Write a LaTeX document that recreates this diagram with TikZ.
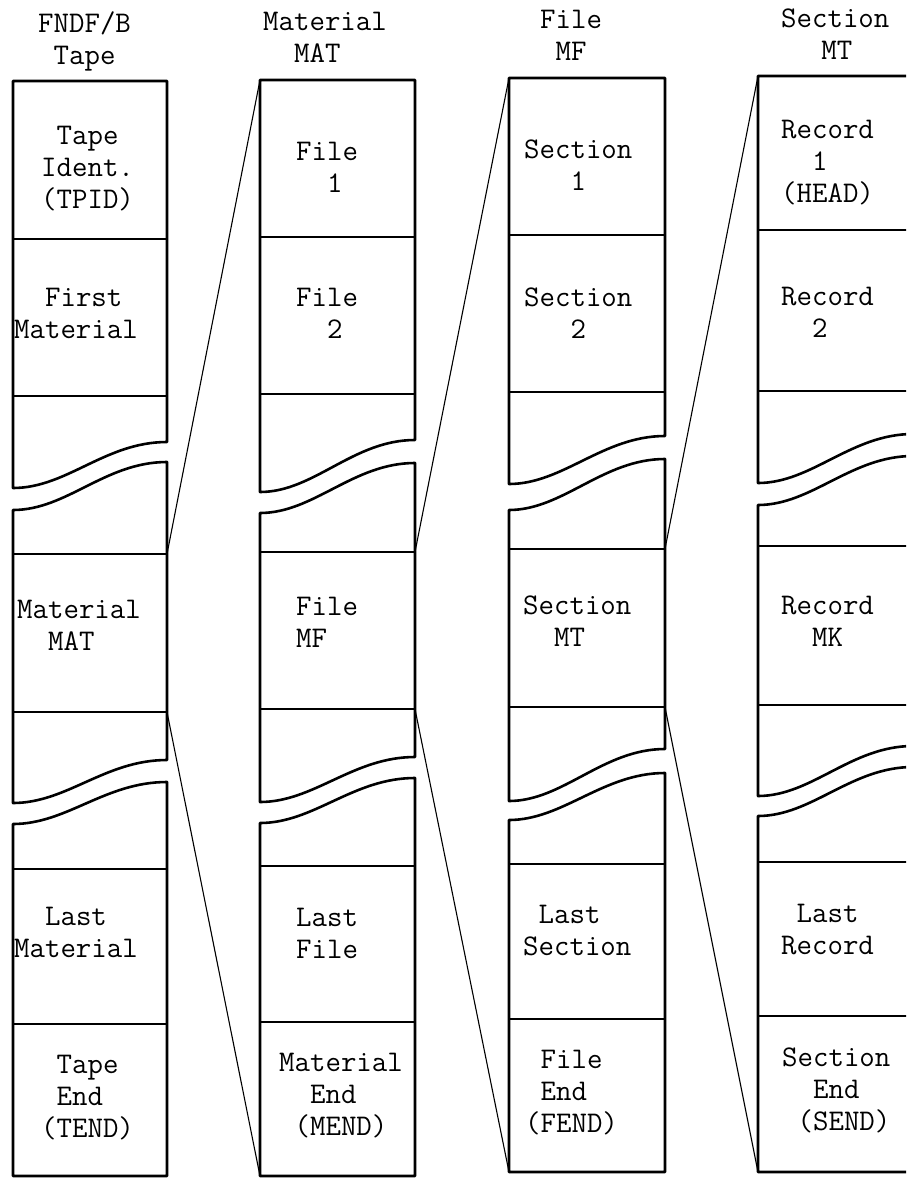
\documentclass[tikz,border=0pt]{standalone}
\usepackage{fontspec}
\newcommand\sr{\rule[-0.25em]{0pt}{1em}}
\newcommand\ind[1]{\hspace*{#1\fontcharwd\font`M}}
\begin{document}
\begin{tikzpicture}[x=1pt,y=-1pt,
  box/.style={line width=2.6pt,line join=round,line cap=round},
  sep/.style={line width=2.4pt},
  link/.style={line width=1.1pt},
  lbl/.style={anchor=north west,inner sep=0pt,align=left,
    font=\ttfamily\fontsize{30}{32}\selectfont\addfontfeatures{FakeBold=0.8}}]
\newcommand\tnode[4]{\node[lbl] (#1) at (#2,{#3-22.5}) {\sr#4};}
\useasboundingbox (0,0) rectangle (906,1178);
\clip (0,0) rectangle (906,1178);
% ---------- column 1 : FNDF/B tape
\draw[box] (13,488) -- (13,81) -- (167,81) -- (167,442) .. controls (105,442) and (67,488) .. (13,488) -- cycle;
\draw[sep] (13,239) -- (167,239) (13,396) -- (167,396);
\draw[box] (13,510) .. controls (67,510) and (105,462) .. (167,462) -- (167,760) .. controls (105,760) and (67,803) .. (13,803) -- cycle;
\draw[sep] (13,554) -- (167,554) (13,712) -- (167,712);
\draw[box] (13,824) .. controls (67,824) and (105,782) .. (167,782) -- (167,1176) -- (13,1176) -- cycle;
\draw[sep] (13,869) -- (167,869) (13,1024) -- (167,1024);
% ---------- column 2 : material
\draw[box] (260,492) -- (260,80) -- (415,80) -- (415,440) .. controls (353,440) and (314,492) .. (260,492) -- cycle;
\draw[sep] (260,237) -- (415,237) (260,394) -- (415,394);
\draw[box] (260,513) .. controls (314,513) and (353,463) .. (415,463) -- (415,757) .. controls (353,757) and (314,802) .. (260,802) -- cycle;
\draw[sep] (260,552) -- (415,552) (260,709) -- (415,709);
\draw[box] (260,823) .. controls (314,823) and (353,778) .. (415,778) -- (415,1176) -- (260,1176) -- cycle;
\draw[sep] (260,866) -- (415,866) (260,1022) -- (415,1022);
% ---------- column 3 : file
\draw[box] (509,484) -- (509,78) -- (665,78) -- (665,436) .. controls (603,436) and (563,484) .. (509,484) -- cycle;
\draw[sep] (509,235) -- (665,235) (509,392) -- (665,392);
\draw[box] (509,510) .. controls (563,510) and (603,459) .. (665,459) -- (665,749) .. controls (603,749) and (563,801) .. (509,801) -- cycle;
\draw[sep] (509,549) -- (665,549) (509,707) -- (665,707);
\draw[box] (509,820) .. controls (563,820) and (603,773) .. (665,773) -- (665,1172) -- (509,1172) -- cycle;
\draw[sep] (509,864) -- (665,864) (509,1019) -- (665,1019);
% ---------- column 4 : section
\draw[box] (758,483) -- (758,76) -- (913,76) -- (913,434) .. controls (851,434) and (812,483) .. (758,483) -- cycle;
\draw[sep] (758,230) -- (913,230) (758,391) -- (913,391);
\draw[box] (758,505) .. controls (812,505) and (851,456) .. (913,456) -- (913,746) .. controls (851,746) and (812,796) .. (758,796) -- cycle;
\draw[sep] (758,546) -- (913,546) (758,705) -- (913,705);
\draw[box] (758,816) .. controls (812,816) and (851,767) .. (913,767) -- (913,1172) -- (758,1172) -- cycle;
\draw[sep] (758,862) -- (913,862) (758,1016) -- (913,1016);
% ---------- corner coordinates
\coordinate (mat-ne) at (167,554);
\coordinate (mat-se) at (167,712);
\coordinate (col2-nw) at (260,80);
\coordinate (col2-sw) at (260,1176);
\coordinate (mf-ne) at (415,552);
\coordinate (mf-se) at (415,709);
\coordinate (col3-nw) at (509,78);
\coordinate (col3-sw) at (509,1172);
\coordinate (mt-ne) at (665,549);
\coordinate (mt-se) at (665,707);
\coordinate (col4-nw) at (758,76);
\coordinate (col4-sw) at (758,1172);
\draw[link] (mat-ne) -- (col2-nw);
\draw[link] (mat-se) -- (col2-sw);
\draw[link] (mf-ne) -- (col3-nw);
\draw[link] (mf-se) -- (col3-sw);
\draw[link] (mt-ne) -- (col4-nw);
\draw[link] (mt-se) -- (col4-sw);
% ---------- headers
\tnode{h1}{38}{32}{FNDF/B\\\ind{1}Tape}
\tnode{h2}{263}{30}{Material\\\ind{2}MAT}
\tnode{h3}{540}{28}{File\\\ind{1}MF}
\tnode{h4}{781}{27}{Section\\\ind{2.6}MT}
% ---------- column 1 texts
\tnode{t1}{41}{144}{\ind{1}Tape\\Ident.\\(TPID)}
\tnode{t2}{14}{306}{\ind{2}First\\Material}
\tnode{t3}{17}{618}{Material\\\ind{2}MAT}
\tnode{t4}{14}{925}{\ind{2}Last\\Material}
\tnode{t5}{41}{1073}{\ind{1}Tape\\\ind{1}End\\(TEND)}
% ---------- column 2 texts
\tnode{u1}{296}{160}{File\\\ind{2}1}
\tnode{u2}{296}{306}{File\\\ind{2}2}
\tnode{u3}{296}{615}{File\\MF}
\tnode{u4}{296}{926}{Last\\File}
\tnode{u5}{279}{1071}{Material\\\ind{2}End\\\ind{1}(MEND)}
% ---------- column 3 texts
\tnode{v1}{524}{158}{Section\\\ind{3}1}
\tnode{v2}{524}{306}{Section\\\ind{3}2}
\tnode{v3}{523}{614}{Section\\\ind{2}MT}
\tnode{v4}{523}{923}{\ind{1}Last\\Section}
\tnode{v5}{525}{1068}{\ind{1}File\\\ind{1}End\\(FEND)}
% ---------- column 4 texts
\tnode{w1}{781}{138}{Record\\\ind{2}1\\(HEAD)}
\tnode{w2}{781}{305}{Record\\\ind{2}2}
\tnode{w3}{781}{614}{Record\\\ind{2}MK}
\tnode{w4}{781}{922}{\ind{1}Last\\Record}
\tnode{w5}{782}{1066}{Section\\\ind{2}End\\\ind{1}(SEND)}
\end{tikzpicture}
\end{document}
